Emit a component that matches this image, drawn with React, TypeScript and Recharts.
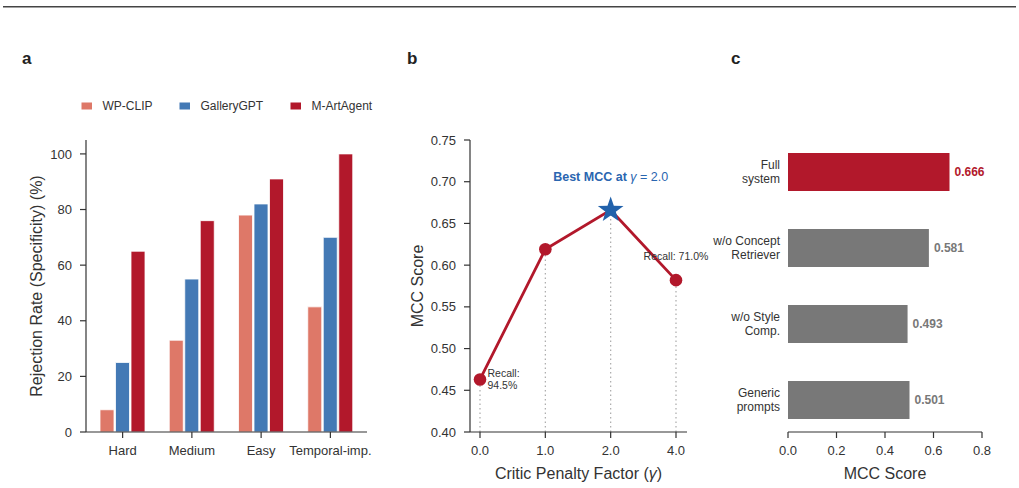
import React from "react";
import {
  Bar,
  BarChart,
  Cell,
  LabelList,
  Line,
  LineChart,
  ReferenceLine,
  XAxis,
  YAxis,
} from "recharts";

const FONT = '"Liberation Sans", Arial, Helvetica, sans-serif';
const INK = "#333333";
const AXIS = "#333333";
const RED = "#B2182B";
const BLUE = "#4379B5";
const SALMON = "#DE7868";
const GREY = "#787878";
const STAR_BLUE = "#2262AB";

// a: rejection rate per difficulty split
const difficulty = ["Hard", "Medium", "Easy", "Temporal-imp."];
const wpClip = [8, 33, 78, 45];
const galleryGpt = [25, 55, 82, 70];
const mArtAgent = [65, 76, 91, 100];
const rejectionTicks = [0, 20, 40, 60, 80, 100];

// b: critic penalty sweep
const gammaLabels = ["0.0", "1.0", "2.0", "4.0"];
const mccByGamma = [0.463, 0.619, 0.666, 0.582];
const recallByGamma = [94.5, null, null, 71.0];
const mccTicks = [0.4, 0.45, 0.5, 0.55, 0.6, 0.65, 0.7, 0.75];

// c: ablation
const variants = ["Full\nsystem", "w/o Concept\nRetriever", "w/o Style\nComp.", "Generic\nprompts"];
const variantMcc = [0.666, 0.581, 0.493, 0.501];
const variantTicks = [0, 0.2, 0.4, 0.6, 0.8];

const rejectionData = difficulty.map((name, i) => ({
  name,
  wpClip: wpClip[i],
  galleryGpt: galleryGpt[i],
  mArtAgent: mArtAgent[i],
}));

const gammaData = gammaLabels.map((gamma, i) => ({
  gamma,
  mcc: mccByGamma[i],
  recall: recallByGamma[i],
}));

const ablationData = variants.map((variant, i) => ({ variant, mcc: variantMcc[i] }));

const bestIdx = mccByGamma.indexOf(Math.max(...mccByGamma));

const tickStyle = { fill: INK, fontSize: 13, fontFamily: FONT };
const axisLine = { stroke: AXIS, strokeWidth: 1.2 };
const labelStyle = { fill: INK, fontSize: 16, fontFamily: FONT, textAnchor: "middle" as const };

const legendItems = [
  { name: "WP-CLIP", color: SALMON, x: 81.5 },
  { name: "GalleryGPT", color: BLUE, x: 179.5 },
  { name: "M-ArtAgent", color: RED, x: 290.5 },
];

function starPoints(cx: number, cy: number, outer: number, inner: number) {
  const pts: string[] = [];
  for (let k = 0; k < 10; k++) {
    const r = k % 2 === 0 ? outer : inner;
    const a = -Math.PI / 2 + (k * Math.PI) / 5;
    pts.push(`${cx + r * Math.cos(a)},${cy + r * Math.sin(a)}`);
  }
  return pts.join(" ");
}

function GammaDot(props: any) {
  const { cx, cy, index, payload } = props;
  if (cx == null || cy == null) return <g key={`dot-${index}`} />;
  const recall = payload?.recall;
  let note = null;
  if (recall != null) {
    const txt = `${recall.toFixed(1)}%`;
    note =
      index === 0 ? (
        <text x={cx + 7.5} y={cy - 2} fontSize={10.5} fontFamily={FONT} fill={INK}>
          <tspan x={cx + 7.5} y={cy - 2}>Recall:</tspan>
          <tspan x={cx + 7.5} y={cy + 10}>{txt}</tspan>
        </text>
      ) : (
        <text x={cx} y={cy - 20} fontSize={10.5} fontFamily={FONT} fill={INK} textAnchor="middle">
          {`Recall: ${txt}`}
        </text>
      );
  }
  if (index === bestIdx) {
    return (
      <g key={`dot-${index}`}>
        <polygon points={starPoints(cx, cy, 13.5, 5.4)} fill={STAR_BLUE} />
        <text x={cx} y={cy - 29} textAnchor="middle" fontFamily={FONT} fontSize={12.5} fill="#2A66B0">
          <tspan fontWeight="bold">Best MCC at </tspan>
          <tspan fontStyle="italic">γ</tspan>
          <tspan>{` = ${gammaLabels[index]}`}</tspan>
        </text>
        {note}
      </g>
    );
  }
  return (
    <g key={`dot-${index}`}>
      <circle cx={cx} cy={cy} r={6.3} fill={RED} />
      {note}
    </g>
  );
}

function VariantTick(props: any) {
  const { x, y, payload } = props;
  const lines = String(payload.value).split("\n");
  const start = y - ((lines.length - 1) * 14) / 2 + 4.2;
  return (
    <text textAnchor="end" fill={INK} fontSize={12} fontFamily={FONT}>
      {lines.map((ln, i) => (
        <tspan key={i} x={x} y={start + i * 14}>
          {ln}
        </tspan>
      ))}
    </text>
  );
}

function AblationValue(props: any) {
  const { x, y, width, height, value, index } = props;
  return (
    <text
      x={x + width + 5}
      y={y + height / 2 + 4.2}
      fontSize={12}
      fontWeight="bold"
      fontFamily={FONT}
      fill={index === 0 ? RED : GREY}
    >
      {Number(value).toFixed(3)}
    </text>
  );
}

export default function App() {
  return (
    <div
      style={{
        position: "absolute",
        left: 0,
        top: 0,
        width: 1019,
        height: 488,
        background: "#fff",
        overflow: "hidden",
      }}
    >
      <svg width={1019} height={488} style={{ position: "absolute", left: 0, top: 0 }}>
        <line x1={3} x2={1016} y1={6.7} y2={6.7} stroke="#444" strokeWidth={1.4} />
        {[
          ["a", 22],
          ["b", 407],
          ["c", 731],
        ].map(([t, x]) => (
          <text key={t as string} x={x as number} y={63.5} fontSize={17} fontWeight="bold" fontFamily={FONT} fill="#222">
            {t}
          </text>
        ))}
        {legendItems.map((it) => (
          <g key={it.name}>
            <rect x={it.x} y={102.5} width={10.5} height={7} fill={it.color} />
            <text x={it.x + 21} y={110.3} fontSize={12} fontFamily={FONT} fill={INK}>
              {it.name}
            </text>
          </g>
        ))}
      </svg>

      <div style={{ position: "absolute", left: 0, top: 0 }}>
        <BarChart
          width={400}
          height={488}
          data={rejectionData}
          margin={{ top: 140, right: 33, bottom: 26, left: 0 }}
          barGap={1.5}
          barSize={14}
        >
          <XAxis
            dataKey="name"
            height={30}
            padding={{ left: 2, right: 2 }}
            tick={tickStyle}
            tickSize={6}
            tickMargin={8}
            axisLine={axisLine}
            tickLine={axisLine}
          />
          <YAxis
            width={86}
            domain={[0, 105]}
            ticks={rejectionTicks}
            tick={tickStyle}
            tickSize={6}
            tickMargin={8}
            axisLine={axisLine}
            tickLine={axisLine}
            label={{
              value: "Rejection Rate (Specificity) (%)",
              angle: -90,
              position: "insideLeft",
              offset: 36,
              style: labelStyle,
            }}
          />
          <Bar dataKey="wpClip" fill={SALMON} stroke="#fff" strokeWidth={0.8} isAnimationActive={false} />
          <Bar dataKey="galleryGpt" fill={BLUE} stroke="#fff" strokeWidth={0.8} isAnimationActive={false} />
          <Bar dataKey="mArtAgent" fill={RED} stroke="#fff" strokeWidth={0.8} isAnimationActive={false} />
        </BarChart>
      </div>

      <div style={{ position: "absolute", left: 700, top: 0 }}>
        <BarChart
          width={319}
          height={488}
          data={ablationData}
          layout="vertical"
          margin={{ top: 140, right: 37, bottom: 0, left: 0 }}
          barSize={38}
        >
          <XAxis
            type="number"
            domain={[0, 0.8]}
            ticks={variantTicks}
            tickFormatter={(v: number) => v.toFixed(1)}
            height={56}
            tick={tickStyle}
            tickSize={6}
            tickMargin={8}
            axisLine={axisLine}
            tickLine={axisLine}
            label={{ value: "MCC Score", position: "insideBottom", offset: 9, style: labelStyle }}
          />
          <YAxis
            type="category"
            dataKey="variant"
            width={88}
            padding={{ top: -6, bottom: -6 }}
            axisLine={false}
            tickLine={false}
            tickSize={0}
            tickMargin={8}
            tick={<VariantTick />}
          />
          <Bar dataKey="mcc" isAnimationActive={false}>
            {ablationData.map((d, i) => (
              <Cell key={d.variant} fill={i === 0 ? RED : GREY} />
            ))}
            <LabelList dataKey="mcc" content={<AblationValue />} />
          </Bar>
        </BarChart>
      </div>

      {/* b sits on top so its annotation can run past its own plot edge */}
      <div style={{ position: "absolute", left: 400, top: 0 }}>
        <LineChart
          width={330}
          height={488}
          data={gammaData}
          margin={{ top: 140, right: 43, bottom: 0, left: 0 }}
        >
          <XAxis
            dataKey="gamma"
            height={56}
            padding={{ left: 10, right: 11 }}
            tick={tickStyle}
            tickSize={6}
            tickMargin={8}
            axisLine={axisLine}
            tickLine={axisLine}
            label={(p: any) => {
              const vb = p.viewBox;
              const cx = vb.x + vb.width / 2;
              return (
                <text x={cx} y={vb.y + vb.height - 9} textAnchor="middle" fontSize={16} fontFamily={FONT} fill={INK}>
                  Critic Penalty Factor (<tspan fontStyle="italic">γ</tspan>)
                </text>
              );
            }}
          />
          <YAxis
            width={70}
            domain={[0.4, 0.75]}
            ticks={mccTicks}
            tickFormatter={(v: number) => v.toFixed(2)}
            tick={tickStyle}
            tickSize={6}
            tickMargin={8}
            axisLine={axisLine}
            tickLine={axisLine}
            label={{ value: "MCC Score", angle: -90, position: "insideLeft", offset: 17, style: labelStyle }}
          />
          {gammaData.map((d) => (
            <ReferenceLine
              key={d.gamma}
              segment={[
                { x: d.gamma, y: 0.4 },
                { x: d.gamma, y: d.mcc },
              ]}
              stroke="#AAAAAA"
              strokeWidth={1.2}
              strokeDasharray="1.5 3"
            />
          ))}
          <Line
            dataKey="mcc"
            stroke={RED}
            strokeWidth={2.8}
            dot={(p: any) => <GammaDot key={`g-${p.index}`} {...p} />}
            activeDot={false}
            isAnimationActive={false}
          />
        </LineChart>
      </div>
    </div>
  );
}
